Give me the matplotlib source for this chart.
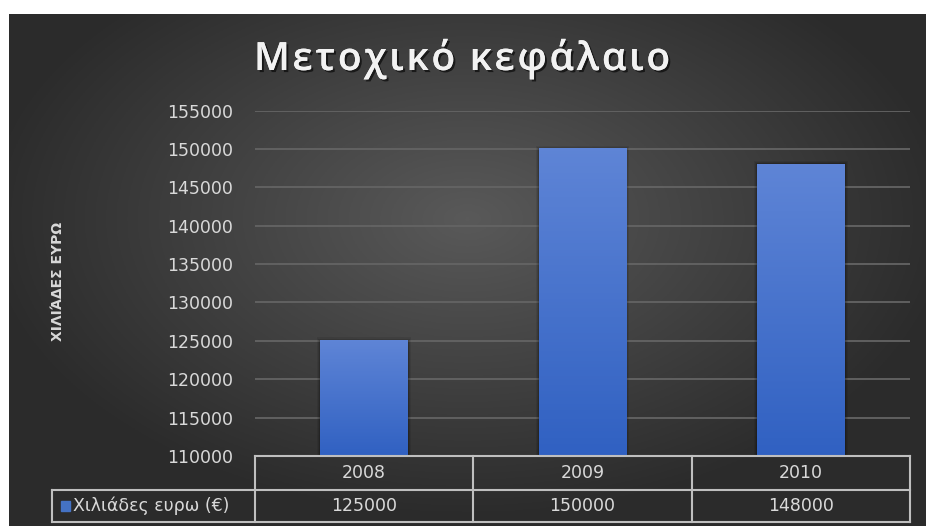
import numpy as np
import matplotlib.pyplot as plt
import matplotlib.patheffects as pe
from matplotlib.patches import Rectangle

# Données du graphique
annees = ["2008", "2009", "2010"]
valeurs = [125000, 150000, 148000]
serie = "Χιλιάδες ευρω (€)"
titre = "Μετοχικό κεφάλαιο"
label_y = "ΧΙΛΙΆΔΕΣ ΕΥΡΩ"
graduations = list(range(110000, 155001, 5000))

W, H = 926, 526
fig = plt.figure(figsize=(W / 100, H / 100), dpi=100, facecolor="white")

def fx(px):
    return px / W

def fy(py):
    return 1 - py / H

# Fond en degrade radial
fond = fig.add_axes([fx(9), 0, 1 - fx(9), fy(14)])
gx, gy = np.meshgrid(np.linspace(-1, 1, 400), np.linspace(-1, 1, 240))
r = np.sqrt(gx ** 2 + ((gy + 0.2) / 1.1) ** 2)
niveau = np.clip(0.35 - 0.17 * r, 0.17, 0.35)
fond.imshow(np.dstack([niveau] * 3), aspect="auto", extent=[0, 1, 0, 1], origin="upper")
fond.axis("off")

# Zone du graphique
g, d, b, h = 255, 910, 456, 110.6
ax = fig.add_axes([fx(g), fy(b), fx(d) - fx(g), fy(h) - fy(b)])
ax.patch.set_alpha(0)
x = np.arange(len(annees))
bleu_haut = np.array([0.37, 0.52, 0.84])
bleu_bas = np.array([0.19, 0.38, 0.76])
for xi, v in zip(x, valeurs):
    # ombre autour des barres
    for k, a in [(0.03, 0.08), (0.02, 0.1), (0.01, 0.15)]:
        ax.add_patch(Rectangle((xi - 0.2 - k * 0.5, 110000), 0.4 + k, v - 110000 + k * 15000,
                               color="black", alpha=a, zorder=2, lw=0))
    grad = np.linspace(0, 1, 100)[:, None, None] * (bleu_bas - bleu_haut) + bleu_haut
    ax.imshow(grad, extent=[xi - 0.2, xi + 0.2, 110000, v], aspect="auto", zorder=3)
ax.set_xlim(-0.5, 2.5)
ax.set_ylim(110000, 155000)
ax.set_yticks(graduations)
ax.set_yticklabels([str(t) for t in graduations], fontsize=12.5, color="#d9d9d9")
ax.tick_params(axis="y", length=0, pad=16)
ax.set_xticks([])
ax.grid(axis="y", color="#646464", linewidth=1.3, zorder=1)
ax.set_axisbelow(True)
for s in ax.spines.values():
    s.set_visible(False)

# Titre avec espacement des lettres
ombre = [pe.withSimplePatchShadow(offset=(1.5, -1.5), shadow_rgbFace="black", alpha=0.6), pe.Normal()]
renderer = fig.canvas.get_renderer()
style = dict(fontsize=28, family="Open Sans", fontweight="semibold")
largeurs = []
for c in titre:
    t = fig.text(0, 0, c, **style)
    largeurs.append(t.get_window_extent(renderer).width if c != " " else 9)
    t.remove()
espace = 2.8
total = sum(largeurs) + espace * (len(titre) - 1)
pos = 462 - total / 2
for c, l in zip(titre, largeurs):
    fig.text(fx(pos), fy(60), c, ha="left", va="center", color="#f2f2f2",
             path_effects=ombre, **style)
    pos += l + espace

fig.text(fx(58), fy(281), label_y, ha="center", va="center", rotation=90,
         fontsize=10, color="#d9d9d9", fontweight="bold")

# Table des donnees sous le graphique
trait = dict(color="#bfbfbf", lw=1.5)
cols = np.linspace(g, d, len(annees) + 1)
y0, y1, y2 = 456, 489.5, 522
fig.add_artist(plt.Line2D([fx(g), fx(d)], [fy(y0), fy(y0)], **trait))
fig.add_artist(plt.Line2D([fx(52), fx(d)], [fy(y1), fy(y1)], **trait))
fig.add_artist(plt.Line2D([fx(52), fx(d)], [fy(y2), fy(y2)], **trait))
fig.add_artist(plt.Line2D([fx(52), fx(52)], [fy(y1), fy(y2)], **trait))
for c in cols:
    fig.add_artist(plt.Line2D([fx(c), fx(c)], [fy(y0), fy(y2)], **trait))
for i, (a, v) in enumerate(zip(annees, valeurs)):
    xc = (cols[i] + cols[i + 1]) / 2
    fig.text(fx(xc), fy((y0 + y1) / 2), a, ha="center", va="center",
             fontsize=12.5, color="#d9d9d9")
    fig.text(fx(xc), fy((y1 + y2) / 2), str(v), ha="center", va="center",
             fontsize=12.5, color="#d9d9d9")
fig.add_artist(Rectangle((fx(61), fy(511)), fx(9), fy(501) - fy(511), color="#4472c4"))
fig.text(fx(73), fy((y1 + y2) / 2), serie, ha="left", va="center",
         fontsize=12.5, color="#d9d9d9")

fig.savefig("out.png", dpi=100)
